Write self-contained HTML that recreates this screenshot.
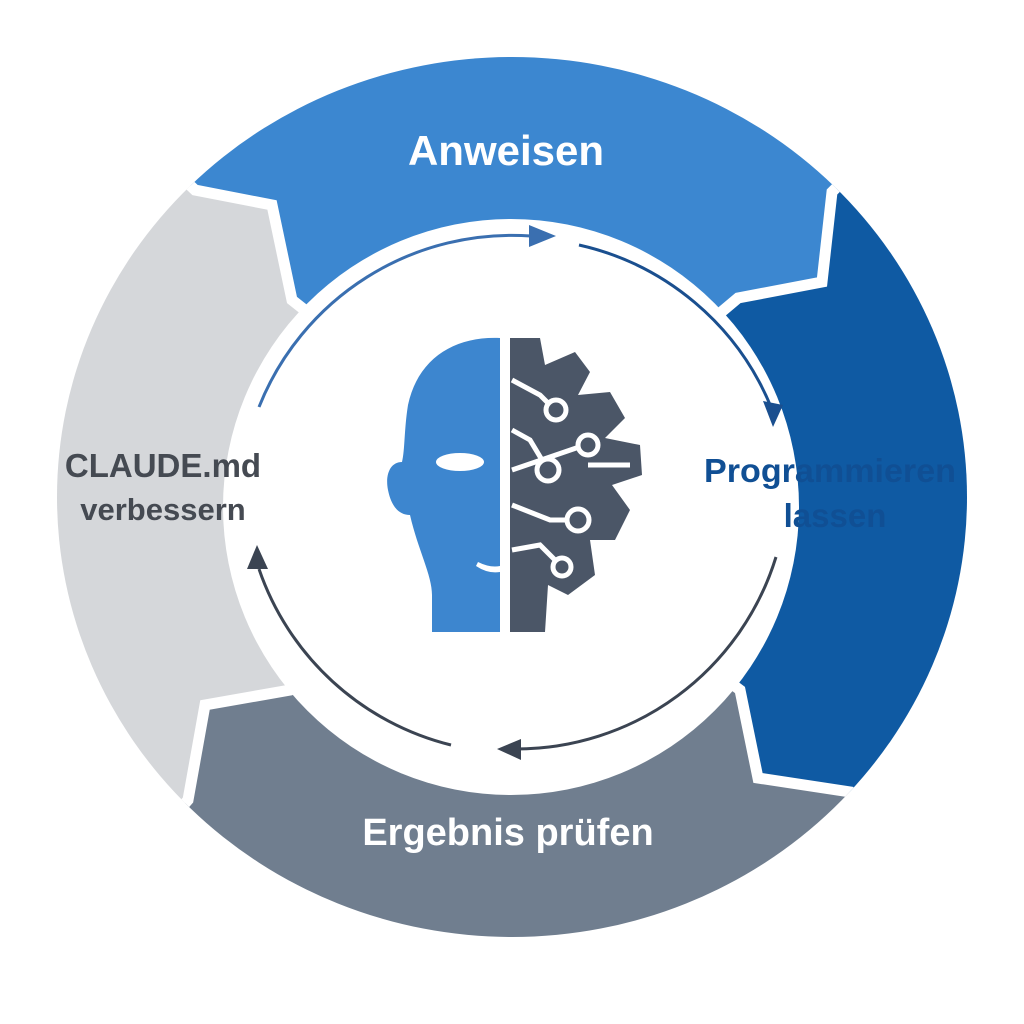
<!DOCTYPE html>
<html><head><meta charset="utf-8"><style>
html,body{margin:0;padding:0;background:#fff;}
svg{display:block}
text{font-family:"Liberation Sans",sans-serif;font-weight:bold;}
</style></head><body>
<svg width="1024" height="1024" viewBox="0 0 1024 1024" xmlns="http://www.w3.org/2000/svg">
<defs>
<clipPath id="ring"><ellipse cx="512" cy="497" rx="455" ry="440"/></clipPath>
</defs>
<g clip-path="url(#ring)">
  <polygon points="0,0 1024,0 924,100 832,192 822,282 738,298 512,497 292,300 272,205 195,190 100,100" fill="#3c87d0"/>
  <polygon points="1024,0 1024,1024 924,900 850,792 758,778 740,690 512,497 738,298 822,282 832,192 924,100" fill="#0f5aa3"/>
  <polygon points="1024,1024 0,1024 100,900 188,800 205,705 290,690 512,497 740,690 758,778 850,792 924,900" fill="#707e8f"/>
  <polygon points="0,1024 0,0 100,100 195,190 272,205 292,300 512,497 290,690 205,705 188,800 100,900" fill="#d5d7da"/>
  <g stroke="#fff" stroke-width="11" fill="none" stroke-linejoin="miter">
    <polyline points="100,100 195,190 272,205 292,300 330,330"/>
    <polyline points="924,100 832,192 822,282 738,298 700,330"/>
    <polyline points="924,900 850,792 758,778 740,690 700,660"/>
    <polyline points="100,900 188,800 205,705 290,690 330,660"/>
  </g>
</g>
<g transform="translate(511,507)">
  <circle r="288" fill="#fff"/>
  <path d="M-252,-100 A272,272 0 0 1 20,-271" stroke="#3a6fb0" stroke-width="3" fill="none"/>
  <polygon points="45,-271 18,-282 18,-260" fill="#3a6fb0"/>
  <path d="M68,-262 A272,272 0 0 1 260,-100" stroke="#1a4f8f" stroke-width="3" fill="none"/>
  <polygon points="262,-80 252,-106 272,-102" fill="#1a4f8f"/>
  <path d="M265,50 A272,272 0 0 1 5,242" stroke="#3b4452" stroke-width="3" fill="none"/>
  <polygon points="-14,242 10,232 10,253" fill="#3b4452"/>
  <path d="M-60,238 A272,272 0 0 1 -252,62" stroke="#3b4452" stroke-width="3" fill="none"/>
  <polygon points="-254,38 -264,62 -243,62" fill="#3b4452"/>
</g>
<path d="M500,338 C455,336 418,358 408,405 C404,430 405,450 402,462 C390,462 385,475 388,490 C391,505 398,515 410,515 C418,550 432,575 432,595 L432,632 L500,632 Z" fill="#3d86cf"/>
<ellipse cx="460" cy="462" rx="24" ry="9" fill="#fff"/>
<path d="M478,562 Q490,568 500,566 L500,572 Q488,574 476,566 Z" fill="#fff"/>
<path d="M510,338 L540,338 L545,365 L575,352 L590,372 L578,395 L610,392 L625,418 L605,438 L640,445 L642,475 L612,485 L630,510 L615,540 L590,540 L595,575 L568,595 L548,585 L545,632 L510,632 Z" fill="#4b5667"/>
<g stroke="#fff" stroke-width="5" fill="none">
  <path d="M512,380 L540,395 L553,408"/>
  <path d="M512,430 L530,440 L545,465"/>
  <path d="M512,470 L585,445"/>
  <path d="M512,505 L550,520 L575,520"/>
  <path d="M512,550 L540,545 L560,565"/>
  <path d="M588,465 L630,465"/>
</g>
<g fill="#4b5667" stroke="#fff" stroke-width="5">
  <circle cx="556" cy="410" r="10"/>
  <circle cx="548" cy="470" r="11"/>
  <circle cx="588" cy="445" r="10"/>
  <circle cx="578" cy="520" r="11"/>
  <circle cx="562" cy="567" r="9"/>
</g>
<text x="506" y="165" font-size="42" fill="#fff" text-anchor="middle">Anweisen</text>
<text x="830" y="482" font-size="33" fill="#104f94" text-anchor="middle" textLength="252" lengthAdjust="spacingAndGlyphs">Programmieren</text>
<text x="835" y="527" font-size="33" fill="#104f94" text-anchor="middle">lassen</text>
<text x="508" y="845" font-size="38" fill="#fff" text-anchor="middle">Ergebnis prüfen</text>
<text x="163" y="477" font-size="33" fill="#454a52" text-anchor="middle">CLAUDE.md</text>
<text x="163" y="520" font-size="31" fill="#454a52" text-anchor="middle">verbessern</text>
</svg>
</body></html>
